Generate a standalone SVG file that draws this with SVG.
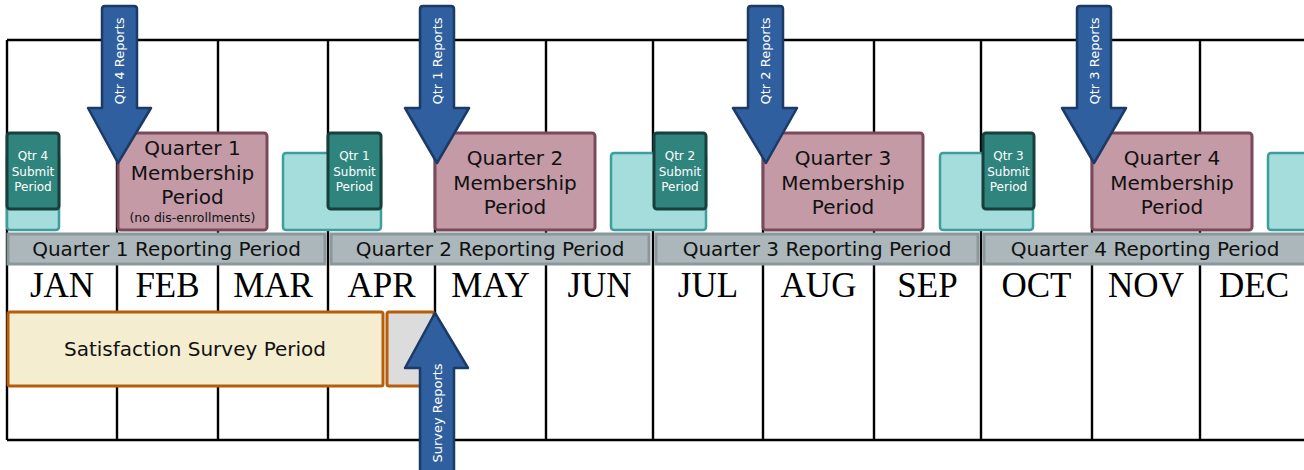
<svg xmlns="http://www.w3.org/2000/svg" width="1304" height="470" viewBox="0 0 1304 470">
<style>
.grid{stroke:#000;stroke-width:2.4;fill:none}
.lt{fill:#a4dddc;stroke:#3c9f9b;stroke-width:2.5}
.sub{fill:#2f857e;stroke:#173f3b;stroke-width:3}
.subt{font-family:"DejaVu Sans",sans-serif;font-size:12px;fill:#fff;text-anchor:middle}
.mem{fill:#c49aa6;stroke:#7a4a5c;stroke-width:3}
.memt{font-family:"DejaVu Sans",sans-serif;font-size:20px;fill:#111;text-anchor:middle}
.rep{fill:#abb7bb;stroke:#8a989c;stroke-width:3}
.rept{font-family:"DejaVu Sans",sans-serif;font-size:20px;fill:#111;text-anchor:middle}
.mon{font-family:"Liberation Serif",serif;font-size:35px;fill:#000;text-anchor:middle}
.arr{fill:#2f5f9e;stroke:#1b3a66;stroke-width:2.5;stroke-linejoin:round}
.arrt{font-family:"DejaVu Sans",sans-serif;font-size:13px;fill:#fff;text-anchor:middle;dominant-baseline:central}
.sv{fill:#f5edd0;stroke:#b85c0a;stroke-width:3}
.svg2{fill:#dcdcdc;stroke:#b85c0a;stroke-width:3}
</style>
<rect width="1304" height="470" fill="#fff"/>
<g id="grid" class="grid">
<line x1="7" y1="40" x2="1304" y2="40"/>
<line x1="7" y1="440" x2="1304" y2="440"/>
<line x1="7" y1="40" x2="7" y2="440"/>
<line x1="117" y1="40" x2="117" y2="440"/>
<line x1="218" y1="40" x2="218" y2="440"/>
<line x1="328" y1="40" x2="328" y2="440"/>
<line x1="435" y1="40" x2="435" y2="440"/>
<line x1="546" y1="40" x2="546" y2="440"/>
<line x1="653" y1="40" x2="653" y2="440"/>
<line x1="763" y1="40" x2="763" y2="440"/>
<line x1="874" y1="40" x2="874" y2="440"/>
<line x1="981" y1="40" x2="981" y2="440"/>
<line x1="1092" y1="40" x2="1092" y2="440"/>
<line x1="1200" y1="40" x2="1200" y2="440"/>
</g>
<g id="submit-windows">
<rect class="lt" x="7" y="153" width="52" height="77" rx="3"/>
<rect class="lt" x="283" y="153" width="98" height="77" rx="3"/>
<rect class="lt" x="611" y="153" width="95" height="77" rx="3"/>
<rect class="lt" x="940" y="153" width="93" height="77" rx="3"/>
<rect class="lt" x="1268" y="153" width="50" height="77" rx="3"/>
</g>
<g id="qtr4-submit">
<rect class="sub" x="7" y="133" width="52" height="76" rx="3"/>
<text class="subt"><tspan x="33" y="160">Qtr 4</tspan><tspan x="33" y="176">Submit</tspan><tspan x="33" y="191">Period</tspan></text>
</g>
<g id="qtr1-submit">
<rect class="sub" x="328" y="133" width="53" height="76" rx="3"/>
<text class="subt"><tspan x="354.5" y="160">Qtr 1</tspan><tspan x="354.5" y="176">Submit</tspan><tspan x="354.5" y="191">Period</tspan></text>
</g>
<g id="qtr2-submit">
<rect class="sub" x="654" y="133" width="52" height="76" rx="3"/>
<text class="subt"><tspan x="680" y="160">Qtr 2</tspan><tspan x="680" y="176">Submit</tspan><tspan x="680" y="191">Period</tspan></text>
</g>
<g id="qtr3-submit">
<rect class="sub" x="983" y="133" width="51" height="76" rx="3"/>
<text class="subt"><tspan x="1008.5" y="160">Qtr 3</tspan><tspan x="1008.5" y="176">Submit</tspan><tspan x="1008.5" y="191">Period</tspan></text>
</g>
<g id="q1-membership">
<rect class="mem" x="118" y="133" width="149" height="97" rx="3"/>
<text class="memt"><tspan x="192.5" y="155">Quarter 1</tspan><tspan x="192.5" y="180">Membership</tspan><tspan x="192.5" y="204">Period</tspan></text>
<text class="memt" x="192.5" y="222" style="font-size:12.5px">(no dis-enrollments)</text>
</g>
<g id="q2-membership">
<rect class="mem" x="435" y="133" width="160" height="97" rx="3"/>
<text class="memt"><tspan x="515" y="165">Quarter 2</tspan><tspan x="515" y="190">Membership</tspan><tspan x="515" y="214">Period</tspan></text>
</g>
<g id="q3-membership">
<rect class="mem" x="763" y="133" width="160" height="97" rx="3"/>
<text class="memt"><tspan x="843" y="165">Quarter 3</tspan><tspan x="843" y="190">Membership</tspan><tspan x="843" y="214">Period</tspan></text>
</g>
<g id="q4-membership">
<rect class="mem" x="1092" y="133" width="160" height="97" rx="3"/>
<text class="memt"><tspan x="1172" y="165">Quarter 4</tspan><tspan x="1172" y="190">Membership</tspan><tspan x="1172" y="214">Period</tspan></text>
</g>
<g id="q1-reporting">
<rect class="rep" x="8" y="234" width="317" height="30"/>
<text class="rept" x="166.5" y="256">Quarter 1 Reporting Period</text>
</g>
<g id="q2-reporting">
<rect class="rep" x="331" y="234" width="318" height="30"/>
<text class="rept" x="490" y="256">Quarter 2 Reporting Period</text>
</g>
<g id="q3-reporting">
<rect class="rep" x="656" y="234" width="322" height="30"/>
<text class="rept" x="817" y="256">Quarter 3 Reporting Period</text>
</g>
<g id="q4-reporting">
<rect class="rep" x="984" y="234" width="322" height="30"/>
<text class="rept" x="1145" y="256">Quarter 4 Reporting Period</text>
</g>
<g id="months" class="mon">
<text x="62" y="297">JAN</text>
<text x="167.5" y="297">FEB</text>
<text x="273" y="297">MAR</text>
<text x="381.5" y="297">APR</text>
<text x="490.5" y="297">MAY</text>
<text x="599.5" y="297">JUN</text>
<text x="708" y="297">JUL</text>
<text x="818.5" y="297">AUG</text>
<text x="927.5" y="297">SEP</text>
<text x="1036.5" y="297">OCT</text>
<text x="1146" y="297">NOV</text>
<text x="1254" y="297">DEC</text>
</g>
<g id="survey-period">
<rect class="sv" x="8" y="312" width="375" height="74" rx="2"/>
<text class="rept" x="195" y="356">Satisfaction Survey Period</text>
</g>
<g id="survey-report-window">
<rect class="svg2" x="387" y="312" width="47" height="74" rx="2"/>
</g>
<g id="connectors">
<g id="qtr4-reports">
<path class="arr" d="M102,9 Q102,6 105,6 L134,6 Q137,6 137,9 L137,108 L151,108 L118,163 L88,108 L102,108 Z"/>
<text class="arrt" transform="translate(119,61) rotate(-90)">Qtr 4 Reports</text>
</g>
<g id="qtr1-reports">
<path class="arr" d="M420,9 Q420,6 423,6 L451,6 Q454,6 454,9 L454,108 L469,108 L437,163 L405,108 L420,108 Z"/>
<text class="arrt" transform="translate(437,61) rotate(-90)">Qtr 1 Reports</text>
</g>
<g id="qtr2-reports">
<path class="arr" d="M748,9 Q748,6 751,6 L780,6 Q783,6 783,9 L783,108 L797,108 L766,163 L733,108 L748,108 Z"/>
<text class="arrt" transform="translate(765.5,61) rotate(-90)">Qtr 2 Reports</text>
</g>
<g id="qtr3-reports">
<path class="arr" d="M1077,9 Q1077,6 1080,6 L1108,6 Q1111,6 1111,9 L1111,108 L1126,108 L1094,163 L1062,108 L1077,108 Z"/>
<text class="arrt" transform="translate(1094,61) rotate(-90)">Qtr 3 Reports</text>
</g>
<g id="survey-reports">
<path class="arr" d="M420,480 L420,368 L405,368 L435,313 L468,368 L454,368 L454,480 Z"/>
<text class="arrt" transform="translate(437,413) rotate(-90)">Survey Reports</text>
</g>
</g>
</svg>
